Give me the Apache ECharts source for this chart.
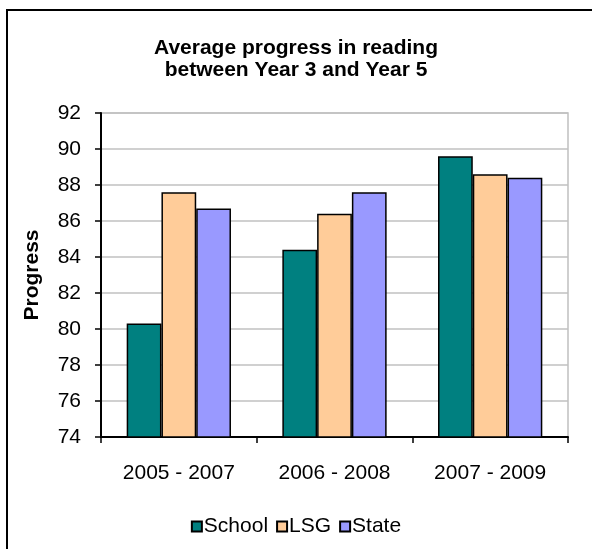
<!DOCTYPE html>
<html>
<head>
<meta charset="utf-8">
<script src="https://cdn.jsdelivr.net/npm/echarts@6/dist/echarts.min.js"></script>
<style>
html,body{margin:0;padding:0;background:#fff;}
#chart{width:592px;height:549px;}
</style>
</head>
<body>
<div id="chart"></div>
<script>
const categories = ['2005 - 2007', '2006 - 2008', '2007 - 2009'];
const schoolValues = [80.3, 84.4, 89.6];
const lsgValues = [87.6, 86.4, 88.6];
const stateValues = [86.7, 87.6, 88.4];
const seriesNames = ['School', 'LSG', 'State'];
const titleText = 'Average progress in reading\nbetween Year 3 and Year 5';
const yAxisName = 'Progress';

const FONT = '"Liberation Sans", Arial, sans-serif';
const colors = ['#008080', '#FFCC99', '#9999FF'];
const dataSets = [schoolValues, lsgValues, stateValues];

const chart = echarts.init(document.getElementById('chart'));
chart.setOption({
  animation: false,
  backgroundColor: '#ffffff',
  title: {
    text: titleText,
    left: 291,
    textAlign: 'center',
    top: 32,
    textStyle: { fontFamily: FONT, fontSize: 21, fontWeight: 'bold', color: '#000', lineHeight: 22 }
  },
  graphic: [
    { type: 'line', shape: { x1: 7, y1: 9, x2: 7, y2: 560 }, style: { stroke: '#000', lineWidth: 2 } },
    { type: 'line', shape: { x1: 6, y1: 10, x2: 600, y2: 10 }, style: { stroke: '#000', lineWidth: 2 } }
  ],
  legend: {
    data: seriesNames,
    bottom: 7,
    left: 'center',
    icon: 'rect',
    itemWidth: 10,
    itemHeight: 10,
    itemGap: 8,
    textStyle: { fontFamily: FONT, fontSize: 21, color: '#000', padding: [0, 0, 0, -3] }
  },
  grid: {
    left: 101, right: 24, top: 113, bottom: 112,
    show: true, borderColor: '#c0c0c0', borderWidth: 1.5, backgroundColor: '#fff'
  },
  xAxis: {
    type: 'category',
    data: categories,
    axisLine: { lineStyle: { color: '#000', width: 2 } },
    axisTick: { show: true, length: 6, lineStyle: { color: '#000', width: 1.5 } },
    axisLabel: { fontFamily: FONT, fontSize: 21, color: '#000', margin: 26 }
  },
  yAxis: {
    type: 'value',
    min: 74, max: 92, interval: 2,
    name: yAxisName,
    nameLocation: 'middle',
    nameGap: 58,
    nameTextStyle: { fontFamily: FONT, fontSize: 21, fontWeight: 'bold', color: '#000' },
    axisLine: { show: true, lineStyle: { color: '#000', width: 2 } },
    axisTick: { show: true, length: 6, lineStyle: { color: '#000', width: 1.5 } },
    axisLabel: { fontFamily: FONT, fontSize: 21, color: '#000', margin: 20 },
    splitLine: { lineStyle: { color: '#c0c0c0', width: 1.5 } }
  },
  series: seriesNames.map((name, i) => ({
    name: name,
    type: 'bar',
    data: dataSets[i],
    barGap: '0%',
    barCategoryGap: '33%',
    itemStyle: { color: colors[i], borderColor: '#000', borderWidth: 1.5 }
  }))
});
</script>
</body>
</html>
